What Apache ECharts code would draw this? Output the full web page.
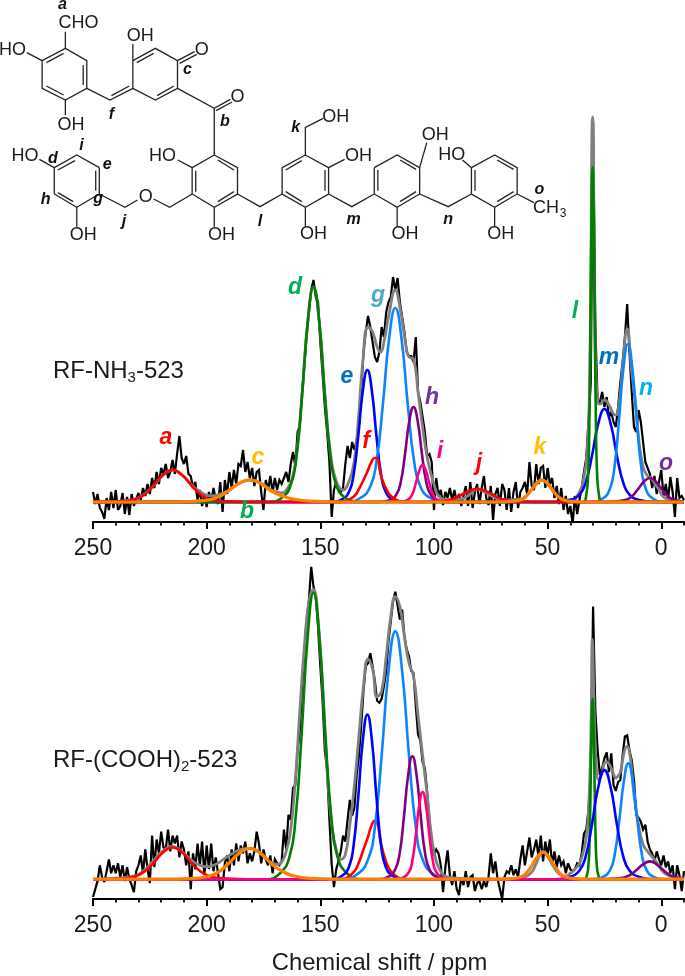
<!DOCTYPE html>
<html><head><meta charset="utf-8">
<style>html,body{margin:0;padding:0;background:#fff}#c{width:685px;height:976px}</style>
<script src="https://cdn.jsdelivr.net/npm/echarts@6/dist/echarts.min.js"></script>
</head><body><div id="c"></div>
<script>
// ---------- tick labels ----------
const xMajorTicks = [250,200,150,100,50,0];
const xName = 'Chemical shift / ppm';

// ---------- black measured spectra, one value per ppm from 250 down to -10 ----------
const spectrumPpm = [250,249,248,247,246,245,244,243,242,241,240,239,238,237,236,235,234,233,232,231,230,229,228,227,226,225,224,223,222,221,220,219,218,217,216,215,214,213,212,211,210,209,208,207,206,205,204,203,202,201,200,199,198,197,196,195,194,193,192,191,190,189,188,187,186,185,184,183,182,181,180,179,178,177,176,175,174,173,172,171,170,169,168,167,166,165,164,163,162,161,160,159,158,157,156,155,154,153,152,151,150,149,148,147,146,145,144,143,142,141,140,139,138,137,136,135,134,133,132,131,130,129,128,127,126,125,124,123,122,121,120,119,118,117,116,115,114,113,112,111,110,109,108,107,106,105,104,103,102,101,100,99,98,97,96,95,94,93,92,91,90,89,88,87,86,85,84,83,82,81,80,79,78,77,76,75,74,73,72,71,70,69,68,67,66,65,64,63,62,61,60,59,58,57,56,55,54,53,52,51,50,49,48,47,46,45,44,43,42,41,40,39,38,37,36,35,34,33,32,31,30,29,28,27,26,25,24,23,22,21,20,19,18,17,16,15,14,13,12,11,10,9,8,7,6,5,4,3,2,1,0,-1,-2,-3,-4,-5,-6,-7,-8,-9,-10];
const spectrumNH3 = [10,-2,8,-6,-10,-17,4,-8,10,-6,12,-8,-4,9,-12,5,-13,8,-4,3,9,2,14,6,18,8,24,14,30,18,34,28,38,24,30,42,28,48,66,44,38,46,28,26,14,20,2,12,-4,8,-5,10,0,14,3,-2,20,-10,22,8,30,14,32,18,38,36,52,30,40,24,34,16,30,32,10,-8,22,12,26,10,24,12,22,18,24,30,20,38,50,36,70,76,110,138,165,190,212,222,205,200,160,128,95,70,40,-15,12,20,14,10,14,38,56,44,60,52,62,80,112,150,170,186,175,160,145,140,150,175,165,190,200,205,225,212,224,200,185,170,150,146,146,140,165,110,100,85,70,46,48,40,-8,24,6,12,-3,10,4,14,2,12,0,8,-4,6,16,-4,20,-6,10,18,-2,14,26,4,-3,16,-18,8,14,-4,18,12,-8,14,-10,10,20,-6,10,14,20,8,40,16,12,38,18,34,36,14,34,18,24,4,16,-2,14,-8,6,-12,-4,-22,6,-12,2,14,30,44,80,120,380,175,100,100,110,95,105,85,90,80,75,95,120,140,165,198,150,110,75,70,92,80,60,40,34,28,14,26,8,20,32,6,18,2,25,10,-15,24,4,6,2];
const spectrumCOOH = [-18,-10,-2,14,2,-3,8,20,6,14,6,16,2,14,-2,12,0,-6,-13,8,14,24,6,30,10,-4,44,12,40,26,48,32,30,50,28,44,36,44,22,38,30,14,28,-10,26,10,36,14,38,4,34,10,36,8,22,6,-10,-8,16,24,8,30,14,36,18,34,26,38,16,26,18,28,48,36,16,30,20,14,24,6,20,16,14,18,50,30,65,60,92,95,130,150,195,230,262,282,315,295,285,255,215,180,130,110,60,15,-8,10,18,28,44,38,60,80,64,72,105,125,155,190,215,218,228,215,200,180,178,182,195,210,240,260,280,290,276,262,272,245,232,225,210,208,175,146,140,118,112,88,60,36,24,30,26,14,-13,12,29,4,-6,8,-10,-16,2,-6,8,-8,2,4,-12,-4,-2,-10,-2,-8,2,26,6,18,0,-10,-20,2,8,6,14,4,10,2,20,34,14,28,42,22,30,40,22,44,18,38,24,40,14,28,12,24,14,18,6,16,10,8,10,16,14,26,46,50,70,110,275,170,130,105,112,122,128,108,127,95,89,98,100,125,144,145,130,120,100,65,62,58,50,55,38,30,26,18,28,20,14,24,12,18,6,14,-10,14,4,-12,8];

// ---------- fitted envelope (grey), [ppm, intensity] ----------
const envelopeNH3 = [[250,0],[240,0.6],[232,2.5],[228,7],[223.5,16],[219,27],[215,32],[211,27],[206.5,17],[202,9],[198,6],[194,8],[190,12],[186,18.5],[181,22],[176,18.5],[171.5,12],[167,9],[164,15],[162,27],[160.5,46],[158,108],[155.5,181],[153,215],[150.5,181],[148,108],[145.5,48],[143,21],[140,12],[138,17],[135,42],[133.3,82],[131.3,140],[129,175],[127,170],[125,155],[123.5,150],[122,160],[120,185],[117,212],[115,195],[112,152],[111,145],[109,143],[107,110],[105,75],[103,45],[100,18],[97,4],[93,2],[88,3],[84,8],[81,13],[77,9],[73,4],[68,2],[62,3],[60,5],[57.5,11],[55,18],[52.5,22],[50,18],[47.5,11],[45,5],[42,2],[40,2],[37,6],[34,25],[32.5,55],[31.5,120],[30.2,385],[29,150],[28,100],[27,98],[25,102],[23,97],[21,88],[20,87],[18.5,100],[17,135],[15,173],[13,130],[11,92],[10,65],[8,35],[6,26],[5,25],[3,19],[1,12],[-1,5],[-4,2],[-10,0]];
const envelopeCOOH = [[250,0],[240,1],[232,3],[228,8],[224,17],[220,27],[215,33],[211,28],[206.5,19],[203,14],[200,12.5],[196,15],[192,21],[188,27],[185,30],[181,31],[177,27],[173,19],[169,15],[167.5,16],[165,28],[163,50],[161,100],[159,170],[157,235],[155,280],[153,292],[151,262],[149,195],[147,110],[145,55],[143,30],[141,20],[139,25],[137,55],[135,95],[133,145],[131,195],[129,222],[127,212],[125,184],[123,190],[121,225],[119,265],[117,285],[115,275],[113,245],[111,218],[109,205],[107,165],[105,125],[103,85],[101,42],[99,18],[97,8],[95,3],[90,1],[80,0],[65,0],[60,2],[57,7],[55,16],[53,26],[52,28],[50,23],[48,15],[46,8],[44,4],[42,3],[40,6],[38,10],[36,16],[34,30],[33,42],[32,68],[31,140],[30.3,242],[29.5,170],[28.5,110],[27.5,100],[26,108],[25,117],[24,118],[22,112],[21,106],[20,102],[19,104],[18,108],[17,120],[16,131],[15,134],[14,128],[13,110],[12,85],[10,55],[8,35],[6,28],[5,25],[3,20],[1,13],[-1,7],[-3,4],[-6,2],[-10,1]];

// ---------- fitted peaks, upper spectrum ----------
const redNH3 = [[250,0],[249,0],[245,0],[239,0.6],[232,2.5],[227.75,7],[223.5,16],[219.25,27],[215,32],[210.75,27],[206.5,16],[202.25,7],[198,2.5],[191,0.6],[181,0],[178,0],[144,0],[141,0],[138,1.5],[135,6],[133,13],[131,22],[129,32],[127.5,40],[126,44],[125,43.5],[123.5,28],[122,18],[121,13],[119,6],[116,1.5],[113,0],[111,0],[102,0.3],[96,1],[92,2.7],[88.5,6.5],[84.75,11],[81,13],[77.25,11],[73.5,6.5],[70,2.7],[66,1],[60,0.3],[51,0],[48,0],[-7,0],[-10,0]];
const orangeNH3 = [[250,0],[247,0],[222,0],[219,0],[208,0.5],[200,1.8],[195.25,4.6],[190.5,11],[185.75,18.5],[181,22],[176.25,18.5],[171.5,11],[166.75,6],[162,3],[154.4,0.8],[143,0],[140,0],[75.5,0],[72.5,0],[66.5,0.5],[62.5,1.8],[60,4.6],[57.5,11],[55,18.5],[52.5,22],[50,18.5],[47.5,11],[45,4.6],[42.5,1.8],[38.5,0.5],[32.5,0],[29.5,0],[-7,0],[-10,0]];
const greenNH3 = [[250,0],[247,0],[176,0],[173,0],[167,4],[163,17],[160.5,45],[158,107],[155.5,181],[153,215],[150.5,181],[148,107],[145.5,45],[143,17],[139,4],[133,0],[130,0],[37,0],[34.2,0],[33,7],[32.2,27],[31.7,70],[31.2,167],[30.7,282],[30.2,335],[29.7,282],[29.2,167],[28.7,70],[28.2,27],[27.4,7],[26.2,0],[24,0],[-7,0],[-10,0]];
const blueNH3 = [[250,0],[247,0],[148,0],[145.3,0],[140.5,2.6],[137.3,10.5],[135.3,28],[133.3,66],[131.3,111],[129.3,132],[127.3,111],[125.3,66],[123.3,28],[121.3,10.5],[118.1,2.6],[113.3,0],[110,0],[50,0],[47,0],[40.4,1.9],[36,7.4],[33.25,19.5],[30.5,46],[27.75,78],[25,93],[22.25,78],[19.5,46],[16.75,19.5],[14,7.4],[9.6,1.9],[3,0],[0,0],[-7,0],[-10,0]];
const azureNH3 = [[250,0],[247,0],[142,0],[139,0],[132.4,4],[128,15.5],[125.25,41],[122.5,97],[119.75,163],[117,194],[114.25,163],[111.5,97],[108.75,41],[106,15.5],[101.6,4],[95,0],[92,0],[34,0],[30.7,0],[25.9,3.2],[22.7,12.6],[20.7,33],[18.7,79],[16.7,133],[14.7,158],[12.7,133],[10.7,79],[8.7,33],[6.7,12.6],[3.5,3.2],[-1.3,0],[-4,0],[-7,0],[-10,0]];
const purpleNH3 = [[250,0],[247,0],[127,0],[124,0],[119.5,1.9],[116.5,7.6],[114.6,20],[112.75,47.5],[110.9,80],[109,95],[107.1,80],[105.25,47.5],[103.4,20],[101.5,7.6],[98.5,1.9],[94,0],[91,0],[30,0],[27,0],[20.4,0.5],[16,1.9],[13.25,5],[10.5,12],[7.75,20],[5,24],[2.25,20],[-0.5,12],[-3.25,5],[-6,1.9],[-10,0.5]];
const pinkNH3 = [[250,0],[247,0],[120,0],[117,0],[113.4,0.7],[111,3],[109.5,7.8],[108,18.5],[106.5,31],[105,37],[103.5,31],[102,18.5],[100.5,7.8],[99,3],[96.6,0.7],[93,0],[90,0],[-7,0],[-10,0]];

// ---------- fitted peaks, lower spectrum ----------
const redCOOH = [[250,0],[249,0],[245,0],[239,0.6],[232,2.5],[227.75,7],[223.5,16],[219.25,27],[215,32],[210.75,27],[206.5,16],[202.25,7],[198,2.5],[191,0.6],[181,0],[178,0],[144,0],[141,0],[138,2],[135,8],[133,17],[131,30],[129,43],[127.5,54],[126,59],[125,58],[123.5,38],[121,17],[119,8],[116,2],[113,0],[110,0],[-7,0],[-10,0]];
const orangeCOOH = [[250,0],[247,0],[222,0],[219,0],[208,0.6],[200,2.5],[195.25,6.5],[190.5,15.5],[185.75,26],[181,31],[176.25,26],[171.5,15.5],[166.75,8],[162,3.5],[154.4,0.8],[143,0],[140,0],[75,0],[72,0],[66,0.5],[62,2.2],[59.5,5.7],[57,13.5],[54.5,22.7],[52,27],[49.5,22.7],[47,13.5],[44.5,5.7],[42,2.2],[38,0.5],[32,0],[29,0],[-7,0],[-10,0]];
const greenCOOH = [[250,0],[247,0],[177,0],[174,0],[167.7,6],[163.5,23],[160.9,61],[158.25,145],[155.6,243],[153,289],[150.4,243],[147.75,145],[145.1,61],[142.5,23],[138.3,6],[132,0],[129,0],[36,0],[33.8,0],[32.7,4],[32,15],[31.55,38],[31.1,91],[30.65,153],[30.2,182],[29.75,153],[29.3,91],[28.85,38],[28.4,15],[27.7,4],[26.6,0],[24,0],[-7,0],[-10,0]];
const blueCOOH = [[250,0],[247,0],[148,0],[145.3,0],[140.5,3.3],[137.3,13],[135.3,35],[133.3,83],[131.3,140],[129.3,166],[127.3,140],[125.3,83],[123.3,35],[121.3,13],[118.1,3.3],[113.3,0],[110,0],[50,0],[47,0],[40.4,2.2],[36,8.8],[33.25,23],[30.5,55],[27.75,92.5],[25,110],[22.25,92.5],[19.5,55],[16.75,23],[14,8.8],[9.6,2.2],[3,0],[0,0],[-7,0],[-10,0]];
const azureCOOH = [[250,0],[247,0],[144,0],[141,0],[133.8,5],[129,20],[126,52.5],[123,125],[120,210],[117,250],[114,210],[111,125],[108,52.5],[105,20],[100.2,5],[93,0],[90,0],[34,0],[30.5,0],[25.7,2.3],[22.5,9.4],[20.5,24.6],[18.5,58.5],[16.5,98],[14.5,117],[12.5,98],[10.5,58.5],[8.5,24.6],[6.5,9.4],[3.3,2.3],[-1.5,0],[-4,0],[-7,0],[-10,0]];
const purpleCOOH = [[250,0],[247,0],[127,0],[124.5,0],[120,2.5],[117,10],[115.1,26],[113.25,62],[111.4,104],[109.5,124],[107.6,104],[105.75,62],[103.9,26],[102,10],[99,2.5],[94.5,0],[91,0],[32,0],[29,0],[21.8,0.4],[17,1.4],[14,3.8],[11,9],[8,15],[5,18],[2,15],[-1,9],[-4,3.8],[-7,1.4],[-10,0.4]];
const pinkCOOH = [[250,0],[247,0],[120,0],[117,0],[113.4,1.8],[111,7],[109.5,18.5],[108,44],[106.5,74],[105,88],[103.5,74],[102,44],[100.5,18.5],[99,7],[96.6,1.8],[93,0],[90,0],[-7,0],[-10,0]];

// ---------- drawing styles ----------
const C = {red:'#ff0000',orange:'#ff8000',green:'#008000',blue:'#0000ff',azure:'#0a84ff',purple:'#800080',pink:'#ff0080',grey:'#808080'};
const FONT = '"Liberation Sans", Arial, sans-serif';

function fit(name,data,color,g){
  return {name,type:'line',xAxisIndex:g*2,yAxisIndex:g,data,symbol:'none',smooth:0.5,
    lineStyle:{color,width:color===C.orange?3.2:2.6},itemStyle:{color},silent:true,animation:false,z:5};
}
const pairs = arr => arr.map((v,i)=>[spectrumPpm[i],v]);
function spectrum(g,raw,env,peaks){
  return [
    {name:'measured',type:'line',xAxisIndex:g*2,yAxisIndex:g,data:pairs(raw),symbol:'none',lineStyle:{color:'#000',width:2.2,join:'miter',miterLimit:3},silent:true,animation:false,z:3},
    {name:'envelope',type:'line',xAxisIndex:g*2,yAxisIndex:g,data:env,symbol:'none',smooth:0.5,lineStyle:{color:C.grey,width:2.8},silent:true,animation:false,z:4},
    ...peaks.map(p=>fit(p[0],p[1],p[2],g))
  ];
}
const series = [
  ...spectrum(0,spectrumNH3,envelopeNH3,[['blue',blueNH3,C.blue],['azure',azureNH3,C.azure],['purple',purpleNH3,C.purple],['pink',pinkNH3,C.pink],['green',greenNH3,C.green],['red',redNH3,C.red],['orange',orangeNH3,C.orange]]),
  ...spectrum(1,spectrumCOOH,envelopeCOOH,[['green',greenCOOH,C.green],['red',redCOOH,C.red],['azure',azureCOOH,C.azure],['blue',blueCOOH,C.blue],['purple',purpleCOOH,C.purple],['pink',pinkCOOH,C.pink],['orange',orangeCOOH,C.orange]])
];

function axes(gridIndex,withName){
  const line={show:true,onZero:false,lineStyle:{color:'#000',width:2}};
  const base={type:'value',gridIndex,inverse:true,min:-10,max:250,position:'bottom',splitLine:{show:false}};
  const minor=Object.assign({},base,{interval:10,axisLine:line,axisLabel:{show:false},
    axisTick:{show:true,length:3.5,lineStyle:{color:'#000',width:1.8}}});
  const major=Object.assign({},base,{axisLine:line,
    axisTick:{show:true,length:7,lineStyle:{color:'#000',width:2},customValues:xMajorTicks},
    axisLabel:{show:true,customValues:xMajorTicks,color:'#1a1a1a',fontFamily:FONT,fontSize:23,margin:15,showMinLabel:true,showMaxLabel:true}});
  if(withName){Object.assign(major,{name:xName,nameLocation:'middle',nameGap:52,
    nameTextStyle:{color:'#1a1a1a',fontFamily:FONT,fontSize:23.8,padding:[0,18,0,0]}});}
  return [minor,major];
}

// ---------- chemical structure (drawn, not data): coordinates in a sketch space ----------
const SX=1/2.8, SY=1/3;
const bonds=[
 [183,95,183,145,243,182,243,265,183,300,118,265,118,182,183,145],[130,188,178,160],[233,195,233,255],[130,258,178,285],
 [118,182,75,158],[183,300,183,345],[243,265,308,300,372,265],[312,287,362,258],
 [372,265,372,182,435,145,497,182,497,265,435,300,372,265],[383,188,430,160],[440,287,487,258],[372,182,372,132],
 [497,182,545,155],[503,190,551,163],[497,265,600,325,645,298],[605,332,650,306],[600,325,600,465],
 [600,465,665,503,665,582,600,622,538,582,538,503,600,465],[610,480,655,510],[655,575,610,605],[548,512,548,575],
 [538,503,498,480],[600,622,600,680],[538,582,475,622,430,597],[385,600,350,622,278,582],
 [278,503,278,582,215,622,152,582,152,503,215,465,278,503],[268,512,268,572],[205,605,162,578],[162,510,210,482],
 [152,503,110,478],[215,622,215,680],
 [665,582,728,620,790,582],
 [855,465,920,503,920,582,855,622,790,582,790,503,855,465],[800,510,845,482],[910,510,910,572],[800,575,845,605],
 [855,465,855,382,905,355],[920,503,965,478],[855,622,855,680],[920,582,985,620,1048,582],
 [1048,503,1112,465,1175,503,1175,582,1112,622,1048,582,1048,503],[1058,510,1058,572],[1120,480,1165,508],[1165,575,1120,605],
 [1175,503,1195,428],[1112,622,1112,680],[1175,582,1255,620,1320,582],
 [1320,503,1385,465,1448,503,1448,582,1385,622,1320,582,1320,503],[1330,510,1330,572],[1392,480,1438,508],[1438,575,1392,605],
 [1320,503,1295,480],[1385,622,1385,680],[1448,582,1495,608]
];
const atoms=[['CHO',220,70],['HO',35,150],['OH',199,375],['OH',393,108],['O',565,150],['O',665,292],['HO',455,468],['OH',620,705],['O',408,590],
 ['HO',70,467],['OH',233,705],['OH',940,350],['OH',1004,467],['OH',878,703],['OH',1219,405],['OH',1134,703],['HO',1265,465],['OH',1402,703]];
const siteLabels=[['a',175,15],['f',312,345],['c',525,210],['b',630,365],['i',228,438],['d',148,475],['e',300,495],['h',128,600],['g',275,597],['j',347,665],['l',728,665],['k',828,382],['m',990,660],['n',1255,658],['o',1510,568]];
// coloured peak labels: text, colour, centre on the page
const peakLabels=[['a',C.red,166,438],['c','#ffc000',258,458],['b','#00b050',247,512],['d','#00b050',295,288],['e','#0070c0',347,377],['f',C.red,366,442],['g','#4bacc6',378,296],['h','#7030a0',432,398],['i','#ff0080',440,452],['j',C.red,479,464],['k','#ffc000',540,448],['l','#00b050',575,312],['m','#0070c0',609,358],['n','#00b0f0',646,389],['o','#7030a0',666,464]];

const graphic=[];
bonds.forEach(b=>{
  const pts=[];for(let i=0;i<b.length;i+=2)pts.push([b[i]*SX,b[i+1]*SY]);
  graphic.push({type:'polyline',shape:{points:pts},style:{stroke:'#222',lineWidth:1.3,fill:null},silent:true,z:10});
});
const txt=(t,x,y,font,fill,z)=>({type:'text',x,y,silent:true,z:z||11,style:{text:t,font,fill,textAlign:'center',textVerticalAlign:'middle'}});
atoms.forEach(a=>graphic.push(txt(a[0],a[1]*SX,a[2]*SY,'18px '+FONT,'#1a1a1a')));
siteLabels.forEach(a=>graphic.push(txt(a[0],a[1]*SX,a[2]*SY,'italic bold 16px '+FONT,'#111')));
peakLabels.forEach(a=>graphic.push(txt(a[0],a[2],a[3],'italic bold 23px '+FONT,a[1],12)));
graphic.push(txt('CH',546,208,'18px '+FONT,'#1a1a1a'));
graphic.push(txt('3',563,214,'12px '+FONT,'#1a1a1a'));
function sampleLabel(x,y,parts){
  let cx=x;
  parts.forEach(p=>{
    const sub=p[1];
    const size=sub?15:24;
    graphic.push({type:'text',x:cx,y:sub?y+7:y,silent:true,z:11,style:{text:p[0],font:size+'px '+FONT,fill:'#1a1a1a',textAlign:'left',textVerticalAlign:'middle'}});
    cx+=p[2];
  });
}
sampleLabel(53,371,[['RF-NH',0,74.6],['3',1,8.3],['-523',0,0]]);
sampleLabel(53,760,[['RF-(COOH)',0,128],['2',1,8.3],['-523',0,0]]);

const option={
  animation:false,backgroundColor:'#fff',
  grid:[{left:93,width:591,top:110,height:412},{left:93,width:591,top:560,height:342}],
  xAxis:[...axes(0,false),...axes(1,true)],
  yAxis:[{type:'value',gridIndex:0,min:-20,max:392,show:false},{type:'value',gridIndex:1,min:-20,max:322,show:false}],
  series,graphic
};
const chart=echarts.init(document.getElementById('c'),null,{renderer:'canvas'});
chart.setOption(option);
</script></body></html>
